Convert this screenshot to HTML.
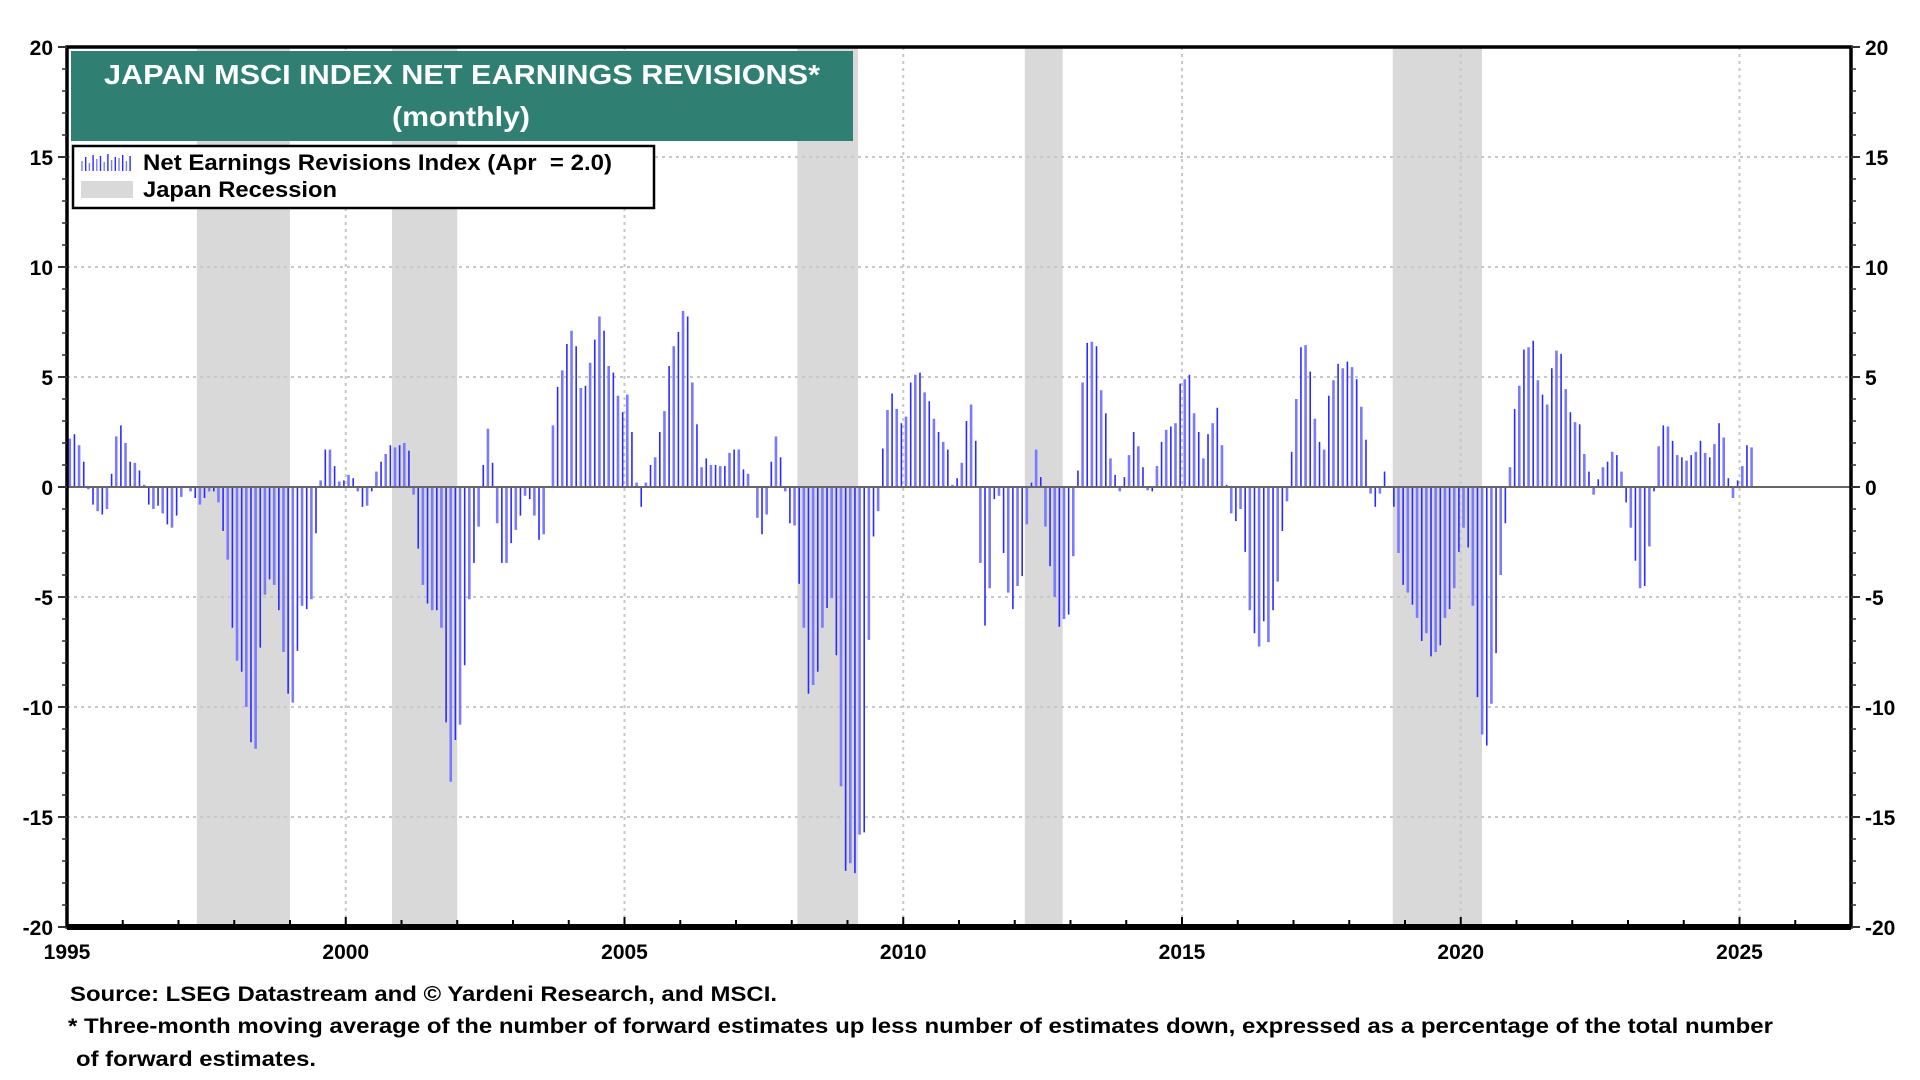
<!DOCTYPE html>
<html><head><meta charset="utf-8"><style>
html,body{margin:0;padding:0;background:#fff;}
svg{display:block;font-family:"Liberation Sans",Arial,sans-serif;}
text{white-space:pre;}
</style></head><body>
<svg id="chart" width="1920" height="1080" viewBox="0 0 1920 1080">
<g id="bg"></g><g id="grid"></g><g id="bars"></g><g id="axes"></g>
<g>
<rect x="71" y="51" width="782" height="90" fill="#2f7f72"/>
<text x="104" y="84" textLength="716" lengthAdjust="spacingAndGlyphs" fill="#fff" font-size="28" font-weight="bold">JAPAN MSCI INDEX NET EARNINGS REVISIONS*</text>
<text x="392" y="126" textLength="138" lengthAdjust="spacingAndGlyphs" fill="#fff" font-size="28" font-weight="bold">(monthly)</text>
</g>
<g>
<rect x="73" y="146" width="581" height="62" fill="#fff" stroke="#000" stroke-width="2.5"/>
<g id="legicon"></g>
<text x="143" y="170" textLength="469" lengthAdjust="spacingAndGlyphs" font-size="22" font-weight="bold">Net Earnings Revisions Index (Apr  = 2.0)</text>
<rect x="81" y="181" width="52" height="17" fill="#d9d9d9"/>
<text x="143" y="197" textLength="194" lengthAdjust="spacingAndGlyphs" font-size="22" font-weight="bold">Japan Recession</text>
</g>
<g font-size="21" font-weight="bold">
<text x="70" y="1001" textLength="707" lengthAdjust="spacingAndGlyphs">Source: LSEG Datastream and © Yardeni Research, and MSCI.</text>
<text x="68" y="1033" textLength="1705" lengthAdjust="spacingAndGlyphs">* Three-month moving average of the number of forward estimates up less number of estimates down, expressed as a percentage of the total number</text>
<text x="76" y="1066" textLength="240" lengthAdjust="spacingAndGlyphs">of forward estimates.</text>
</g>
</svg>
<script>
const startYear = 1995;
const values = [
2.2,2.4,1.9,1.15,-0.1,-0.8,-1.1,-1.25,-1.0,0.6,2.3,2.8,
2.0,1.15,1.1,0.75,0.1,-0.8,-1.0,-0.85,-1.2,-1.7,-1.85,-1.3,
-0.45,0,-0.2,-0.5,-0.8,-0.5,-0.2,-0.2,-0.7,-2.0,-3.3,-6.4,
-7.9,-8.4,-10.0,-11.6,-11.9,-7.3,-4.9,-4.2,-4.45,-5.6,-7.5,-9.4,
-9.8,-7.45,-5.4,-5.55,-5.1,-2.1,0.3,1.7,1.7,0.95,0.25,0.3,
0.55,0.4,-0.2,-0.9,-0.85,-0.2,0.7,1.15,1.5,1.9,1.8,1.9,
2.0,1.65,-0.35,-2.8,-4.45,-5.3,-5.6,-5.6,-6.4,-10.7,-13.4,-11.5,
-10.8,-8.1,-5.1,-3.45,-1.8,1.0,2.65,1.1,-1.65,-3.45,-3.45,-2.55,
-1.95,-1.3,-0.4,-0.55,-1.3,-2.4,-2.15,0.05,2.8,4.55,5.3,6.5,
7.1,6.4,4.5,4.6,5.65,6.7,7.75,7.1,5.5,5.2,4.15,3.4,
4.2,2.5,0.2,-0.9,0.2,1.0,1.35,2.5,3.45,5.5,6.4,7.05,
8.0,7.75,4.75,2.85,0.9,1.3,1.0,1.0,0.95,0.95,1.55,1.7,
1.7,0.8,0.6,0,-1.4,-2.15,-1.25,1.15,2.3,1.35,-0.2,-1.65,
-1.75,-4.4,-6.4,-9.4,-9.0,-8.4,-6.4,-5.5,-5.05,-7.65,-13.6,-17.45,
-17.1,-17.55,-15.8,-15.7,-6.95,-2.25,-1.1,1.75,3.5,4.25,3.55,2.9,
3.2,4.75,5.1,5.2,4.3,3.9,3.1,2.5,2.05,1.7,0.1,0.4,
1.1,3.0,3.75,2.1,-3.45,-6.3,-4.6,-0.55,-0.4,-3.0,-4.8,-5.55,
-4.5,-4.05,-1.7,0.2,1.7,0.45,-1.8,-3.6,-5.0,-6.35,-6.0,-5.8,
-3.15,0.75,4.75,6.55,6.6,6.4,4.4,3.35,1.3,0.55,-0.2,0.45,
1.45,2.5,1.85,0.9,-0.15,-0.2,0.95,2.05,2.6,2.75,2.9,4.7,
4.9,5.1,3.35,2.5,1.3,2.4,2.9,3.6,1.9,0.1,-1.2,-1.55,
-1.0,-2.95,-5.6,-6.65,-7.25,-6.1,-7.05,-5.6,-4.3,-2.0,-0.65,1.6,
4.0,6.35,6.45,5.25,3.1,2.05,1.7,4.15,4.85,5.6,5.4,5.7,
5.45,4.9,3.65,2.15,-0.3,-0.9,-0.3,0.7,0.05,-0.9,-3.0,-4.45,
-4.8,-5.35,-5.95,-7.0,-6.65,-7.7,-7.5,-7.2,-5.95,-5.55,-4.6,-2.95,
-1.85,-2.75,-5.4,-9.55,-11.25,-11.75,-9.85,-7.55,-4.0,-1.65,0.9,3.55,
4.6,6.25,6.35,6.65,4.85,4.2,3.75,5.4,6.2,6.05,4.45,3.4,
2.95,2.85,1.5,0.7,-0.35,0.35,0.9,1.15,1.6,1.45,0.7,-0.7,
-1.85,-3.35,-4.6,-4.5,-2.7,-0.2,1.85,2.8,2.75,2.1,1.45,1.35,
1.2,1.45,1.6,2.1,1.55,1.35,1.95,2.9,2.25,0.4,-0.5,0.3,
0.95,1.9,1.8
];
const recessionStarts = [1997.33, 2000.83, 2008.1, 2012.18, 2018.78];
const recessionEnds = [1999.0, 2002.0, 2009.19, 2012.86, 2020.38];
const yTicks = [20,15,10,5,0,-5,-10,-15,-20];
const xTickYears = [1995,2000,2005,2010,2015,2020,2025];

const L=67,R=1851,T=47,B=927, X0=1995, X1=2027, YMIN=-20, YMAX=20;
const xs = y => L + (y - X0) / (X1 - X0) * (R - L);
const ys = v => T + (YMAX - v) / (YMAX - YMIN) * (B - T);
const NS='http://www.w3.org/2000/svg';
function mk(tag, attrs, parent){const e=document.createElementNS(NS,tag);for(const k in attrs)e.setAttribute(k,attrs[k]);parent.appendChild(e);return e;}
const bg=document.getElementById('bg'), grid=document.getElementById('grid'), bars=document.getElementById('bars'), axes=document.getElementById('axes');

for(let i=0;i<recessionStarts.length;i++){
  const r=mk('rect',{x:xs(recessionStarts[i]),y:T,width:xs(recessionEnds[i])-xs(recessionStarts[i]),height:B-T,fill:'#d9d9d9'},bg);
  
  
}
yTicks.forEach(v=>{
  if(v!==YMIN && v!==YMAX && v!==0){
    const g=mk('line',{x1:L,x2:R,y1:ys(v),y2:ys(v),stroke:'#c8c8c8','stroke-width':2,'stroke-dasharray':'3 4'},grid);
    
    
  }
});
xTickYears.forEach(yr=>{
  if(yr!==X0){
    const g=mk('line',{x1:xs(yr),x2:xs(yr),y1:T,y2:B,stroke:'#c8c8c8','stroke-width':2,'stroke-dasharray':'3 4'},grid);
    
    
  }
});
const zl=mk('line',{x1:L,x2:R,y1:ys(0),y2:ys(0),stroke:'#666','stroke-width':2},axes);



values.forEach((v,i)=>{
  const x=xs(startYear+(i+0.6)/12);
  const b=mk('line',{x1:x,x2:x,y1:ys(0),y2:ys(v),stroke:(i%2?'#2a2aff':'#7a7aff'),'stroke-width':(i%2?1.6:2.6)},bars);
  
  
});

const frame=mk('rect',{x:L,y:T,width:R-L,height:B-T,fill:'none',stroke:'#000','stroke-width':3.5},axes);


const bl=mk('line',{x1:L,x2:R,y1:B,y2:B,stroke:'#000','stroke-width':6},axes);



for(let v=YMIN; v<=YMAX; v++){
  const major=v%5===0, len=major?9:5;
  mk('line',{x1:L-len,x2:L,y1:ys(v),y2:ys(v),stroke:'#333','stroke-width':major?2:1.5},axes);
  mk('line',{x1:R,x2:R+len,y1:ys(v),y2:ys(v),stroke:'#333','stroke-width':major?2:1.5},axes);
}
yTicks.forEach(v=>{
  const t1=mk('text',{x:L-14,y:ys(v)+8,'text-anchor':'end','font-size':21,'font-weight':'bold'},axes);
  t1.textContent=v;
  
  
  const t2=mk('text',{x:R+14,y:ys(v)+8,'text-anchor':'start','font-size':21,'font-weight':'bold'},axes);
  t2.textContent=v;
  
  
});
for(let yr=X0; yr<=X1; yr++){
  const major=yr%5===0;
  mk('line',{x1:xs(yr),x2:xs(yr),y1:B-(major?10:7),y2:B,stroke:'#000','stroke-width':2},axes);
}
xTickYears.forEach(yr=>{
  const t=mk('text',{x:xs(yr),y:959,'text-anchor':'middle','font-size':21,'font-weight':'bold'},axes);
  t.textContent=yr;
  
  
});
const li=document.getElementById('legicon');
for(let k=0;k<14;k++){
  const h=[10,14,8,16,12,15,9,17,11,14,13,16,10,15][k];
  mk('line',{x1:82+k*3.7,x2:82+k*3.7,y1:171,y2:171-h,stroke:(k%2?'#2a2aff':'#7a7aff'),'stroke-width':1.4},li);
}
</script>
</body></html>
